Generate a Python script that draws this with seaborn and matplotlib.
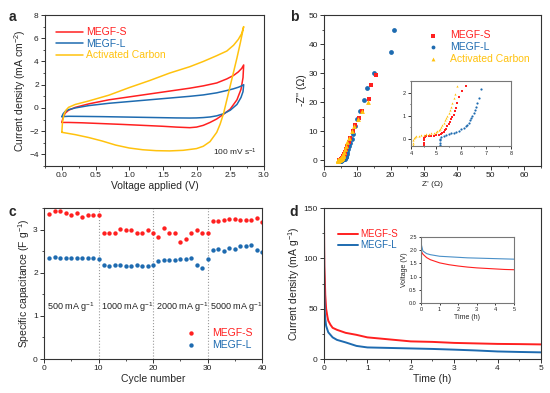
import numpy as np
import pandas as pd
import seaborn as sns
import matplotlib.pyplot as plt
from matplotlib.ticker import AutoMinorLocator

sns.set_style("ticks")
plt.rcParams["font.family"] = ["Liberation Sans", "DejaVu Sans"]
plt.rcParams["mathtext.default"] = "regular"

RED = "#FF2020"
BLUE = "#1E6BB0"
YELLOW = "#FFC20E"

# ===================== DATA =====================
# (a) CV curves, forward and reverse branches
s_up_v = [0.0, 0.02, 0.05, 0.1, 0.2, 0.4, 0.7, 1.0, 1.3, 1.6, 1.9, 2.1, 2.3, 2.45, 2.55, 2.62, 2.67, 2.7]
s_up_i = [-1.25, -0.8, -0.45, -0.2, 0.05, 0.35, 0.7, 0.95, 1.2, 1.45, 1.7, 1.9, 2.15, 2.5, 2.8, 3.1, 3.4, 3.7]
s_dn_v = [2.7, 2.69, 2.66, 2.6, 2.5, 2.4, 2.3, 2.2, 2.1, 2.0, 1.9, 1.7, 1.5, 1.2, 0.9, 0.6, 0.3, 0.1, 0.0]
s_dn_i = [3.7, 2.6, 1.6, 0.7, -0.1, -0.55, -0.95, -1.25, -1.5, -1.65, -1.7, -1.65, -1.58, -1.5, -1.42, -1.35, -1.28, -1.25, -1.25]

l_up_v = [0.0, 0.02, 0.05, 0.1, 0.2, 0.4, 0.7, 1.0, 1.3, 1.6, 1.9, 2.1, 2.3, 2.45, 2.55, 2.62, 2.67, 2.7]
l_up_i = [-0.75, -0.5, -0.3, -0.15, 0.0, 0.2, 0.4, 0.55, 0.7, 0.85, 1.0, 1.12, 1.3, 1.5, 1.65, 1.78, 1.9, 2.0]
l_dn_v = [2.7, 2.69, 2.66, 2.6, 2.5, 2.4, 2.3, 2.2, 2.1, 2.0, 1.9, 1.7, 1.5, 1.2, 0.9, 0.6, 0.3, 0.1, 0.0]
l_dn_i = [2.0, 1.4, 0.9, 0.3, -0.2, -0.5, -0.68, -0.78, -0.83, -0.86, -0.87, -0.86, -0.84, -0.81, -0.78, -0.75, -0.73, -0.72, -0.75]

ac_up_v = [0.0, 0.01, 0.03, 0.06, 0.1, 0.2, 0.4, 0.7, 1.0, 1.3, 1.6, 1.9, 2.1, 2.3, 2.45, 2.55, 2.62, 2.67, 2.7]
ac_up_i = [-2.1, -1.2, -0.6, -0.2, 0.05, 0.3, 0.6, 1.1, 1.75, 2.35, 3.0, 3.55, 4.0, 4.5, 4.9, 5.4, 5.9, 6.4, 7.0]
ac_dn_v = [2.7, 2.65, 2.6, 2.55, 2.5, 2.45, 2.4, 2.35, 2.3, 2.2, 2.1, 2.0, 1.8, 1.6, 1.4, 1.2, 1.0, 0.8, 0.6, 0.4, 0.2, 0.05, 0.0]
ac_dn_i = [7.0, 5.6, 4.3, 3.1, 1.9, 0.7, -0.5, -1.4, -2.1, -2.9, -3.3, -3.5, -3.65, -3.7, -3.68, -3.6, -3.45, -3.2, -2.85, -2.55, -2.3, -2.15, -2.1]

# (b) Nyquist plots
eis_s_x = [4.5, 4.5, 4.5, 4.5, 4.55, 4.6, 4.7, 4.8, 4.9, 5.0, 5.1, 5.2, 5.25, 5.3, 5.35, 5.4, 5.45, 5.5,
           5.55, 5.6, 5.65, 5.7, 5.75, 5.8, 5.85, 5.9, 6.05, 6.2,
           6.4, 6.7, 7.0, 7.4, 7.9, 8.7, 9.4, 10.4, 11.5, 13.4, 14.0, 15.7]
eis_s_y = [-0.25, -0.15, -0.05, 0.03, 0.08, 0.11, 0.13, 0.14, 0.15, 0.16, 0.18, 0.2, 0.24, 0.3, 0.37, 0.45, 0.55, 0.65,
           0.75, 0.85, 0.95, 1.05, 1.2, 1.35, 1.55, 1.8, 2.05, 2.3,
           2.9, 3.8, 4.8, 6.2, 7.8, 9.9, 12.0, 14.5, 17.0, 21.2, 25.8, 29.5]
eis_l_x = [5.15, 5.15, 5.15, 5.15, 5.2, 5.3, 5.4, 5.5, 5.6, 5.7, 5.8, 5.9, 6.0, 6.1, 6.2, 6.25, 6.3, 6.35,
           6.4, 6.45, 6.5, 6.55, 6.6, 6.65, 6.7, 6.8,
           7.0, 7.3, 7.6, 7.9, 8.3, 8.8, 9.3, 9.9, 10.9, 12.1, 12.9, 15.1, 20.0, 20.9]
eis_l_y = [-0.25, -0.15, -0.05, 0.02, 0.07, 0.12, 0.16, 0.2, 0.24, 0.28, 0.32, 0.36, 0.42, 0.48, 0.55, 0.62, 0.7, 0.8,
           0.9, 1.0, 1.12, 1.25, 1.4, 1.55, 1.75, 2.15,
           2.8, 3.8, 4.9, 6.0, 7.4, 9.0, 11.9, 14.2, 17.1, 20.7, 25.0, 29.9, 37.1, 44.7]
eis_ac_x = [4.08, 4.08, 4.08, 4.1, 4.15, 4.2, 4.3, 4.4, 4.5, 4.6, 4.7, 4.8, 4.9, 5.0, 5.05, 5.1, 5.15, 5.2,
            5.25, 5.3, 5.35, 5.4, 5.45, 5.5, 5.55, 5.6, 5.65, 5.7, 5.75, 5.85,
            6.0, 6.3, 6.6, 7.0, 7.5, 8.5, 9.1, 10.3, 11.5, 13.3]
eis_ac_y = [-0.25, -0.15, -0.05, 0.03, 0.08, 0.11, 0.14, 0.16, 0.18, 0.2, 0.22, 0.25, 0.28, 0.32, 0.36, 0.4, 0.45, 0.52,
            0.6, 0.7, 0.8, 0.9, 1.0, 1.12, 1.25, 1.4, 1.55, 1.75, 1.95, 2.3,
            2.9, 3.8, 4.8, 6.2, 7.8, 9.9, 11.9, 14.2, 17.0, 20.2]

# (c) rate capability
cycles = list(range(1, 41))
cap_s = [3.36, 3.42, 3.42, 3.39, 3.33, 3.39, 3.29, 3.33, 3.33, 3.33,
         2.91, 2.93, 2.93, 3.02, 2.99, 2.99, 2.91, 2.91, 2.99, 2.91,
         2.82, 3.04, 2.91, 2.93, 2.71, 2.79, 2.93, 3.00, 2.93, 2.91,
         3.20, 3.20, 3.23, 3.24, 3.25, 3.22, 3.22, 3.22, 3.28, 3.17]
cap_l = [2.33, 2.36, 2.34, 2.35, 2.34, 2.34, 2.34, 2.34, 2.34, 2.32,
         2.19, 2.16, 2.19, 2.19, 2.16, 2.16, 2.19, 2.16, 2.16, 2.19,
         2.27, 2.29, 2.29, 2.30, 2.31, 2.31, 2.33, 2.17, 2.12, 2.31,
         2.52, 2.56, 2.51, 2.57, 2.55, 2.61, 2.61, 2.64, 2.52, 2.48]
rate_labels = ["500 mA g$^{-1}$", "1000 mA g$^{-1}$", "2000 mA g$^{-1}$", "5000 mA g$^{-1}$"]
rate_edges = [10, 20, 30]

# (d) self-discharge current and voltage
t_cur = [0, 0.005, 0.01, 0.02, 0.03, 0.05, 0.08, 0.1, 0.15, 0.2, 0.3, 0.5, 0.75, 1.0, 1.5, 2.0, 2.5, 3.0, 3.5, 4.0, 4.5, 5.0]
cur_s = [150, 110, 92, 80, 64, 50, 42, 38, 34, 31, 29, 26, 24, 21.5, 19.5, 17.5, 17, 16, 15.5, 15, 14.8, 14.5]
cur_l = [150, 85, 63, 46, 40, 33, 29, 26.5, 24, 21.5, 19, 16.5, 13, 11.5, 11, 10.5, 10, 9.3, 8.5, 7.5, 7, 6.6]
t_volt = [0, 0, 0.02, 0.1, 0.3, 0.5, 1.0, 1.5, 2.0, 2.5, 3.0, 3.5, 4.0, 4.5, 5.0]
volt_s = [0, 2.45, 1.95, 1.85, 1.72, 1.64, 1.52, 1.45, 1.40, 1.36, 1.33, 1.31, 1.29, 1.27, 1.26]
volt_l = [0, 2.45, 2.2, 1.97, 1.87, 1.83, 1.77, 1.75, 1.73, 1.71, 1.70, 1.69, 1.68, 1.67, 1.66]

# ===================== HELPERS =====================
FS = 7.5
TS = 6


def style_axes(ax, fs=TS, major=3, minor=1.6, spine="#333333"):
    for sp in ax.spines.values():
        sp.set_visible(True)
        sp.set_color(spine)
        sp.set_linewidth(0.8)
    ax.xaxis.set_minor_locator(AutoMinorLocator(2))
    ax.yaxis.set_minor_locator(AutoMinorLocator(2))
    ax.tick_params(which="major", direction="out", length=major, width=0.7, labelsize=fs,
                   colors="#333333", labelcolor="#222222", pad=1.5)
    ax.tick_params(which="minor", direction="out", length=minor, width=0.6, colors="#333333")


def colored_legend(ax, colors, **kw):
    leg = ax.legend(frameon=False, **kw)
    for txt, c in zip(leg.get_texts(), colors):
        txt.set_color(c)
    return leg


fig = plt.figure(figsize=(5.5, 3.93), dpi=100)

# ===================== (a) CV =====================
ax_a = fig.add_axes([0.0818, 0.5776, 0.398, 0.3842])
for v_up, i_up, v_dn, i_dn, c, lab in [
    (s_up_v, s_up_i, s_dn_v, s_dn_i, RED, "MEGF-S"),
    (l_up_v, l_up_i, l_dn_v, l_dn_i, BLUE, "MEGF-L"),
    (ac_up_v, ac_up_i, ac_dn_v, ac_dn_i, YELLOW, "Activated Carbon"),
]:
    cv = pd.DataFrame({"V": v_up + v_dn, "I": i_up + i_dn})
    sns.lineplot(data=cv, x="V", y="I", sort=False, estimator=None, color=c, lw=1.1, ax=ax_a, label=lab)
ax_a.set_xlim(-0.25, 3.0)
ax_a.set_ylim(-5, 8)
ax_a.set_xticks(np.arange(0, 3.01, 0.5))
ax_a.set_yticks(np.arange(-4, 8.1, 2))
ax_a.set_xlabel("Voltage applied (V)", fontsize=FS, labelpad=1)
ax_a.set_ylabel("Current density (mA cm$^{-2}$)", fontsize=FS, labelpad=1)
style_axes(ax_a)
colored_legend(ax_a, [RED, BLUE, YELLOW], fontsize=FS, loc="upper left", bbox_to_anchor=(0.02, 0.96),
               handlelength=2.6, handletextpad=0.3, labelspacing=0.15, borderaxespad=0.2)
ax_a.text(0.97, 0.05, "100 mV s$^{-1}$", transform=ax_a.transAxes, ha="right", va="bottom", fontsize=6)

# ===================== (b) EIS =====================
ax_b = fig.add_axes([0.589, 0.5776, 0.3945, 0.3842])
sns.scatterplot(x=eis_s_x, y=eis_s_y, marker="s", s=12, color=RED, linewidth=0, ax=ax_b, label="MEGF-S", zorder=3)
sns.scatterplot(x=eis_l_x, y=eis_l_y, marker="o", s=12, color=BLUE, linewidth=0, ax=ax_b, label="MEGF-L", zorder=2)
sns.scatterplot(x=eis_ac_x, y=eis_ac_y, marker="^", s=12, color=YELLOW, linewidth=0, ax=ax_b,
                label="Activated Carbon", zorder=4)
ax_b.set_xlim(0, 65)
ax_b.set_ylim(-2, 50)
ax_b.set_xticks(np.arange(0, 61, 10))
ax_b.set_yticks(np.arange(0, 51, 10))
ax_b.set_xlabel("Z' (Ω)", fontsize=6, labelpad=1)
ax_b.set_ylabel("-Z'' (Ω)", fontsize=FS, labelpad=1)
style_axes(ax_b)
colored_legend(ax_b, [RED, BLUE, YELLOW], fontsize=FS, loc="upper right", bbox_to_anchor=(0.99, 0.96),
               handletextpad=0.6, labelspacing=0.15, markerscale=0.8)

ax_bi = fig.add_axes([0.7473, 0.6285, 0.1818, 0.1654])
sns.scatterplot(x=eis_s_x, y=eis_s_y, marker="s", s=2.5, color=RED, linewidth=0, ax=ax_bi, legend=False)
sns.scatterplot(x=eis_l_x, y=eis_l_y, marker="o", s=2.5, color=BLUE, linewidth=0, ax=ax_bi, legend=False)
sns.scatterplot(x=eis_ac_x, y=eis_ac_y, marker="^", s=2.5, color=YELLOW, linewidth=0, ax=ax_bi, legend=False)
ax_bi.set_xlim(4, 8)
ax_bi.set_ylim(-0.3, 2.5)
ax_bi.set_xticks([4, 5, 6, 7, 8])
ax_bi.set_yticks([0, 1, 2])
ax_bi.set_xlabel("")
ax_bi.set_ylabel("")
style_axes(ax_bi, fs=4, major=2, minor=1, spine="#777777")

# ===================== (c) rate =====================
ax_c = fig.add_axes([0.08, 0.0865, 0.3964, 0.3842])
for e in rate_edges:
    ax_c.axvline(e, color="#999999", ls=":", lw=0.8, zorder=0)
sns.scatterplot(x=cycles, y=cap_s, s=10, color=RED, linewidth=0, ax=ax_c, label="MEGF-S")
sns.scatterplot(x=cycles, y=cap_l, s=10, color=BLUE, linewidth=0, ax=ax_c, label="MEGF-L")
for k, lab in enumerate(rate_labels):
    ax_c.text(10 * k + 0.5, 1.2, lab, fontsize=6.5, ha="left", va="center", color="#222222")
ax_c.set_xlim(0, 40)
ax_c.set_ylim(0, 3.5)
ax_c.set_xticks(np.arange(0, 41, 10))
ax_c.set_yticks([0, 1, 2, 3])
ax_c.set_xlabel("Cycle number", fontsize=FS, labelpad=1)
ax_c.set_ylabel("Specific capacitance (F g$^{-1}$)", fontsize=FS, labelpad=1)
style_axes(ax_c)
colored_legend(ax_c, [RED, BLUE], fontsize=FS, loc="lower right", bbox_to_anchor=(1.0, 0.0),
               handletextpad=1.0, labelspacing=0.15)

# ===================== (d) self-discharge =====================
ax_d = fig.add_axes([0.589, 0.0865, 0.3945, 0.3842])
sns.lineplot(x=t_cur, y=cur_s, sort=False, estimator=None, color=RED, lw=1.4, ax=ax_d, label="MEGF-S")
sns.lineplot(x=t_cur, y=cur_l, sort=False, estimator=None, color=BLUE, lw=1.4, ax=ax_d, label="MEGF-L")
ax_d.set_xlim(0, 5)
ax_d.set_ylim(0, 150)
ax_d.set_xticks([0, 1, 2, 3, 4, 5])
ax_d.set_yticks([0, 50, 100, 150])
ax_d.set_xlabel("Time (h)", fontsize=FS, labelpad=1)
ax_d.set_ylabel("Current density (mA g$^{-1}$)", fontsize=FS, labelpad=1)
style_axes(ax_d)
colored_legend(ax_d, [RED, BLUE], fontsize=7, loc="upper left", bbox_to_anchor=(0.04, 0.9),
               handlelength=2.0, handletextpad=0.2, labelspacing=0.15, borderaxespad=0.2)

ax_di = fig.add_axes([0.7655, 0.229, 0.169, 0.168])
sns.lineplot(x=t_volt, y=volt_s, sort=False, estimator=None, color=RED, lw=0.8, ax=ax_di)
sns.lineplot(x=t_volt, y=volt_l, sort=False, estimator=None, color="#4A90C8", lw=0.8, ax=ax_di)
ax_di.set_xlim(0, 5)
ax_di.set_ylim(0, 2.5)
ax_di.set_xticks([0, 1, 2, 3, 4, 5])
ax_di.set_yticks(np.arange(0, 2.51, 0.5))
ax_di.set_xlabel("Time (h)", fontsize=5, labelpad=1)
ax_di.set_ylabel("Voltage (V)", fontsize=5, labelpad=1)
style_axes(ax_di, fs=4, major=1.5, minor=0.8, spine="#777777")
ax_di.minorticks_off()

# ===================== PANEL LETTERS =====================
for x, y, s in [(0.015, 0.975, "a"), (0.527, 0.975, "b"), (0.015, 0.478, "c"), (0.527, 0.478, "d")]:
    fig.text(x, y, s, fontsize=10, fontweight="bold", ha="left", va="top")

fig.savefig("out.png", dpi=100)
